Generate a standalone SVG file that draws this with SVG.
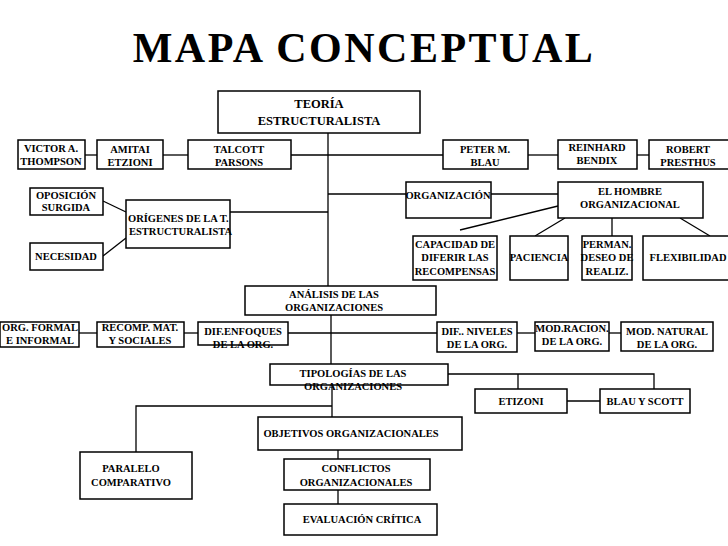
<svg xmlns="http://www.w3.org/2000/svg" width="728" height="546" viewBox="0 0 728 546">
<style>
rect{fill:#fff;stroke:#000;stroke-width:1.5}
text{font-family:"Liberation Serif",serif;font-weight:bold;font-size:10.5px;text-anchor:middle;fill:#000}
.c line,.c polyline{stroke:#000;stroke-width:1.3;fill:none}
</style>
<rect x="0" y="0" width="728" height="546" style="stroke:none"/>
<text x="364" y="62" style="font-size:42px;letter-spacing:2.5px">MAPA CONCEPTUAL</text>
<g class="c">
<line x1="328" y1="133" x2="328" y2="286"/>
<line x1="291" y1="155" x2="443" y2="155"/>
<line x1="85" y1="155" x2="97" y2="155"/>
<line x1="163" y1="155" x2="188" y2="155"/>
<line x1="528" y1="155" x2="558" y2="155"/>
<line x1="637" y1="155" x2="649" y2="155"/>
<line x1="230" y1="212" x2="328" y2="212"/>
<line x1="103" y1="201" x2="126" y2="212"/>
<line x1="103" y1="256" x2="126" y2="238"/>
<line x1="328" y1="194" x2="558" y2="194"/>
<line x1="558" y1="206" x2="460" y2="230"/>
<line x1="565" y1="218" x2="535" y2="236"/>
<line x1="612" y1="218" x2="612" y2="236"/>
<line x1="680" y1="218" x2="710" y2="236"/>
<line x1="331" y1="315" x2="331" y2="364"/>
<line x1="288" y1="333" x2="437" y2="333"/>
<line x1="79" y1="333" x2="97" y2="333"/>
<line x1="184" y1="333" x2="198" y2="333"/>
<line x1="517" y1="333" x2="535" y2="333"/>
<line x1="609" y1="333" x2="621" y2="333"/>
<polyline points="448,374 654,374 654,389"/>
<line x1="518" y1="374" x2="518" y2="389"/>
<line x1="567" y1="401" x2="600" y2="401"/>
<line x1="332" y1="385" x2="332" y2="417"/>
<polyline points="332,406 136,406 136,452"/>
<line x1="338" y1="450" x2="338" y2="459"/>
<line x1="338" y1="490" x2="338" y2="504"/>
</g>
<g id="teoria"><rect x="218" y="91" width="202" height="42"/><text x="319" y="108" style="font-size:12.5px">TEORÍA</text><text x="319" y="125" style="font-size:12.5px">ESTRUCTURALISTA</text></g>
<g id="victor"><rect x="18" y="140" width="67" height="29"/><text x="51" y="152">VICTOR A.</text><text x="51" y="165">THOMPSON</text></g>
<g id="amitai"><rect x="97" y="140" width="66" height="29"/><text x="130" y="153">AMITAI</text><text x="130" y="166">ETZIONI</text></g>
<g id="talcott"><rect x="188" y="140" width="103" height="29"/><text x="239" y="153">TALCOTT</text><text x="239" y="166">PARSONS</text></g>
<g id="peter"><rect x="443" y="140" width="85" height="29"/><text x="485" y="153">PETER  M.</text><text x="485" y="166">BLAU</text></g>
<g id="reinhard"><rect x="558" y="140" width="79" height="29"/><text x="597" y="151">REINHARD</text><text x="597" y="164">BENDIX</text></g>
<g id="robert"><rect x="649" y="140" width="80" height="29"/><text x="688" y="153">ROBERT</text><text x="688" y="166">PRESTHUS</text></g>
<g id="oposicion"><rect x="30" y="188" width="73" height="27"/><text x="66" y="199">OPOSICIÓN</text><text x="66" y="211">SURGIDA</text></g>
<g id="necesidad"><rect x="30" y="243" width="73" height="27"/><text x="66" y="260">NECESIDAD</text></g>
<g id="origenes"><rect x="126" y="200" width="104" height="48"/><text x="128" y="222" style="text-anchor:start">ORÍGENES DE LA T.</text><text x="129" y="235" style="text-anchor:start">ESTRUCTURALISTA</text></g>
<g id="organizacion"><rect x="406" y="182" width="85" height="36"/><text x="448" y="199">ORGANIZACIÓN</text></g>
<g id="hombre"><rect x="558" y="182" width="145" height="36"/><text x="630" y="195">EL HOMBRE</text><text x="630" y="208">ORGANIZACIONAL</text></g>
<g id="capacidad"><rect x="413" y="236" width="84" height="44"/><text x="455" y="248">CAPACIDAD DE</text><text x="455" y="261">DIFERIR LAS</text><text x="455" y="275">RECOMPENSAS</text></g>
<g id="paciencia"><rect x="510" y="236" width="58" height="44"/><text x="539" y="261">PACIENCIA</text></g>
<g id="perman"><rect x="582" y="236" width="50" height="44"/><text x="607" y="248">PERMAN.</text><text x="607" y="261">DESEO DE</text><text x="607" y="275">REALIZ.</text></g>
<g id="flex"><rect x="643" y="236" width="86" height="44"/><text x="688" y="261">FLEXIBILIDAD</text></g>
<g id="analisis"><rect x="245" y="286" width="191" height="29"/><text x="334" y="298">ANÁLISIS DE LAS</text><text x="334" y="311">ORGANIZACIONES</text></g>
<g id="orgformal"><rect x="0" y="322" width="79" height="25"/><text x="40" y="331">ORG. FORMAL</text><text x="40" y="344">E INFORMAL</text></g>
<g id="recomp"><rect x="97" y="322" width="87" height="25"/><text x="140" y="331">RECOMP. MAT.</text><text x="140" y="344">Y SOCIALES</text></g>
<g id="difenf"><rect x="198" y="322" width="90" height="23"/><text x="243" y="335">DIF.ENFOQUES</text><text x="243" y="348">DE LA ORG.</text></g>
<g id="difniv"><rect x="437" y="322" width="80" height="30"/><text x="477" y="335">DIF.. NIVELES</text><text x="477" y="348">DE LA ORG.</text></g>
<g id="modrac"><rect x="535" y="322" width="74" height="29"/><text x="572" y="332">MOD.RACION.</text><text x="572" y="345">DE  LA ORG.</text></g>
<g id="modnat"><rect x="621" y="322" width="92" height="29"/><text x="667" y="335">MOD. NATURAL</text><text x="667" y="348">DE LA ORG.</text></g>
<g id="tipologias"><rect x="270" y="364" width="178" height="21"/><text x="353" y="377">TIPOLOGÍAS DE LAS</text><text x="353" y="390">ORGANIZACIONES</text></g>
<g id="etizoni"><rect x="475" y="389" width="92" height="24"/><text x="521" y="405">ETIZONI</text></g>
<g id="blau"><rect x="600" y="389" width="90" height="24"/><text x="645" y="405">BLAU Y SCOTT</text></g>
<g id="objetivos"><rect x="258" y="417" width="204" height="33"/><text x="351" y="437">OBJETIVOS ORGANIZACIONALES</text></g>
<g id="paralelo"><rect x="80" y="452" width="112" height="47"/><text x="131" y="472">PARALELO</text><text x="131" y="486">COMPARATIVO</text></g>
<g id="conflictos"><rect x="284" y="459" width="146" height="31"/><text x="356" y="472">CONFLICTOS</text><text x="356" y="486">ORGANIZACIONALES</text></g>
<g id="evaluacion"><rect x="284" y="504" width="153" height="31"/><text x="362" y="523">EVALUACIÓN CRÍTICA</text></g>
</svg>
